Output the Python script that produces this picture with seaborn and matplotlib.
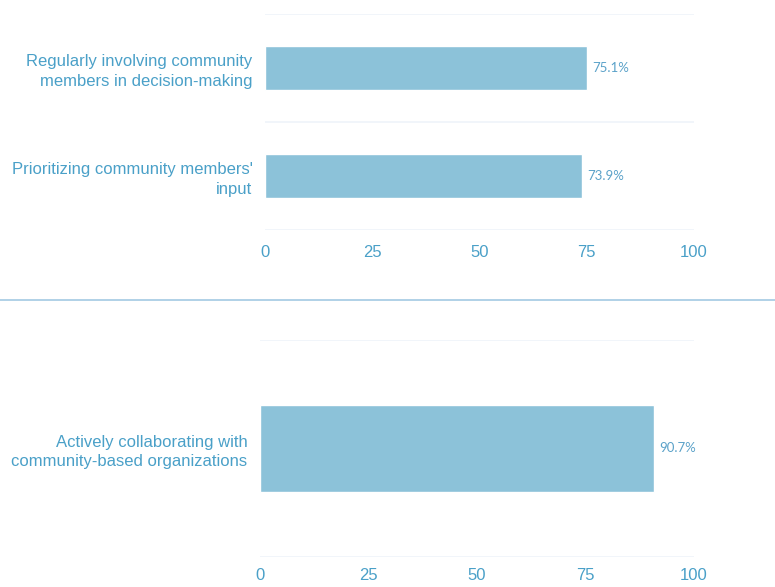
import numpy as np
import pandas as pd
import seaborn as sns
from matplotlib import pyplot as plt
from matplotlib.lines import Line2D

# data
top_labels = ["Regularly involving community\nmembers in decision-making",
              "Prioritizing community members'\ninput"]
top_values = [75.1, 73.9]
bottom_labels = ["Actively collaborating with\ncommunity-based organizations"]
bottom_values = [90.7]
x_ticks = [0, 25, 50, 75, 100]

bar_color = "#8cc2d9"
text_color = "#4aa0c8"
value_color = "#5ba2c9"
grid_color = "#eff4f9"

sns.set_theme(style="white")
plt.rcParams['font.family'] = ['Liberation Sans', 'DejaVu Sans']

fig = plt.figure(figsize=(7.75, 5.87), dpi=100)
ax_top = fig.add_axes([0.3419, 0.6082, 0.5535, 0.368])
ax_bot = fig.add_axes([0.3355, 0.0511, 0.56, 0.3697])


def draw_panel(ax, labels, values, xpad):
    df = pd.DataFrame({"label": labels, "value": values})
    sns.barplot(data=df, x="value", y="label", orient="h", color=bar_color,
                width=0.4, saturation=1, ax=ax)
    n = len(labels)
    ax.set_xlim(0, 100)
    ax.set_ylim(n - 0.5, -0.5)
    ax.set_xticks(x_ticks)
    ax.set_xlabel("")
    ax.set_ylabel("")
    # light lines between categories
    ax.set_yticks(np.arange(n + 1) - 0.5, minor=True)
    ax.grid(True, which="minor", axis="y", color=grid_color, lw=1.2)
    ax.grid(False, which="major")
    ax.tick_params(axis="y", which="both", length=0, pad=9,
                   labelsize=12, labelcolor=text_color)
    ax.tick_params(axis="x", length=0, pad=xpad, labelsize=12,
                   labelcolor=text_color)
    for s in ax.spines.values():
        s.set_visible(False)
    for t in ax.get_yticklabels():
        t.set_horizontalalignment("right")
        t.set_multialignment("right")
        t.set_linespacing(1.35)
    for c in ax.containers:
        ax.bar_label(c, labels=[f"{v:.1f}%" for v in values], padding=4,
                     fontsize=9.5, color=value_color, family="Lato")


draw_panel(ax_top, top_labels, top_values, 11)
draw_panel(ax_bot, bottom_labels, bottom_values, 8)

# divider between the two panels
fig.add_artist(Line2D([0, 1], [0.489, 0.489], transform=fig.transFigure,
                      color="#a3c9e3", lw=1.2))

fig.savefig("out.png", dpi=100)
